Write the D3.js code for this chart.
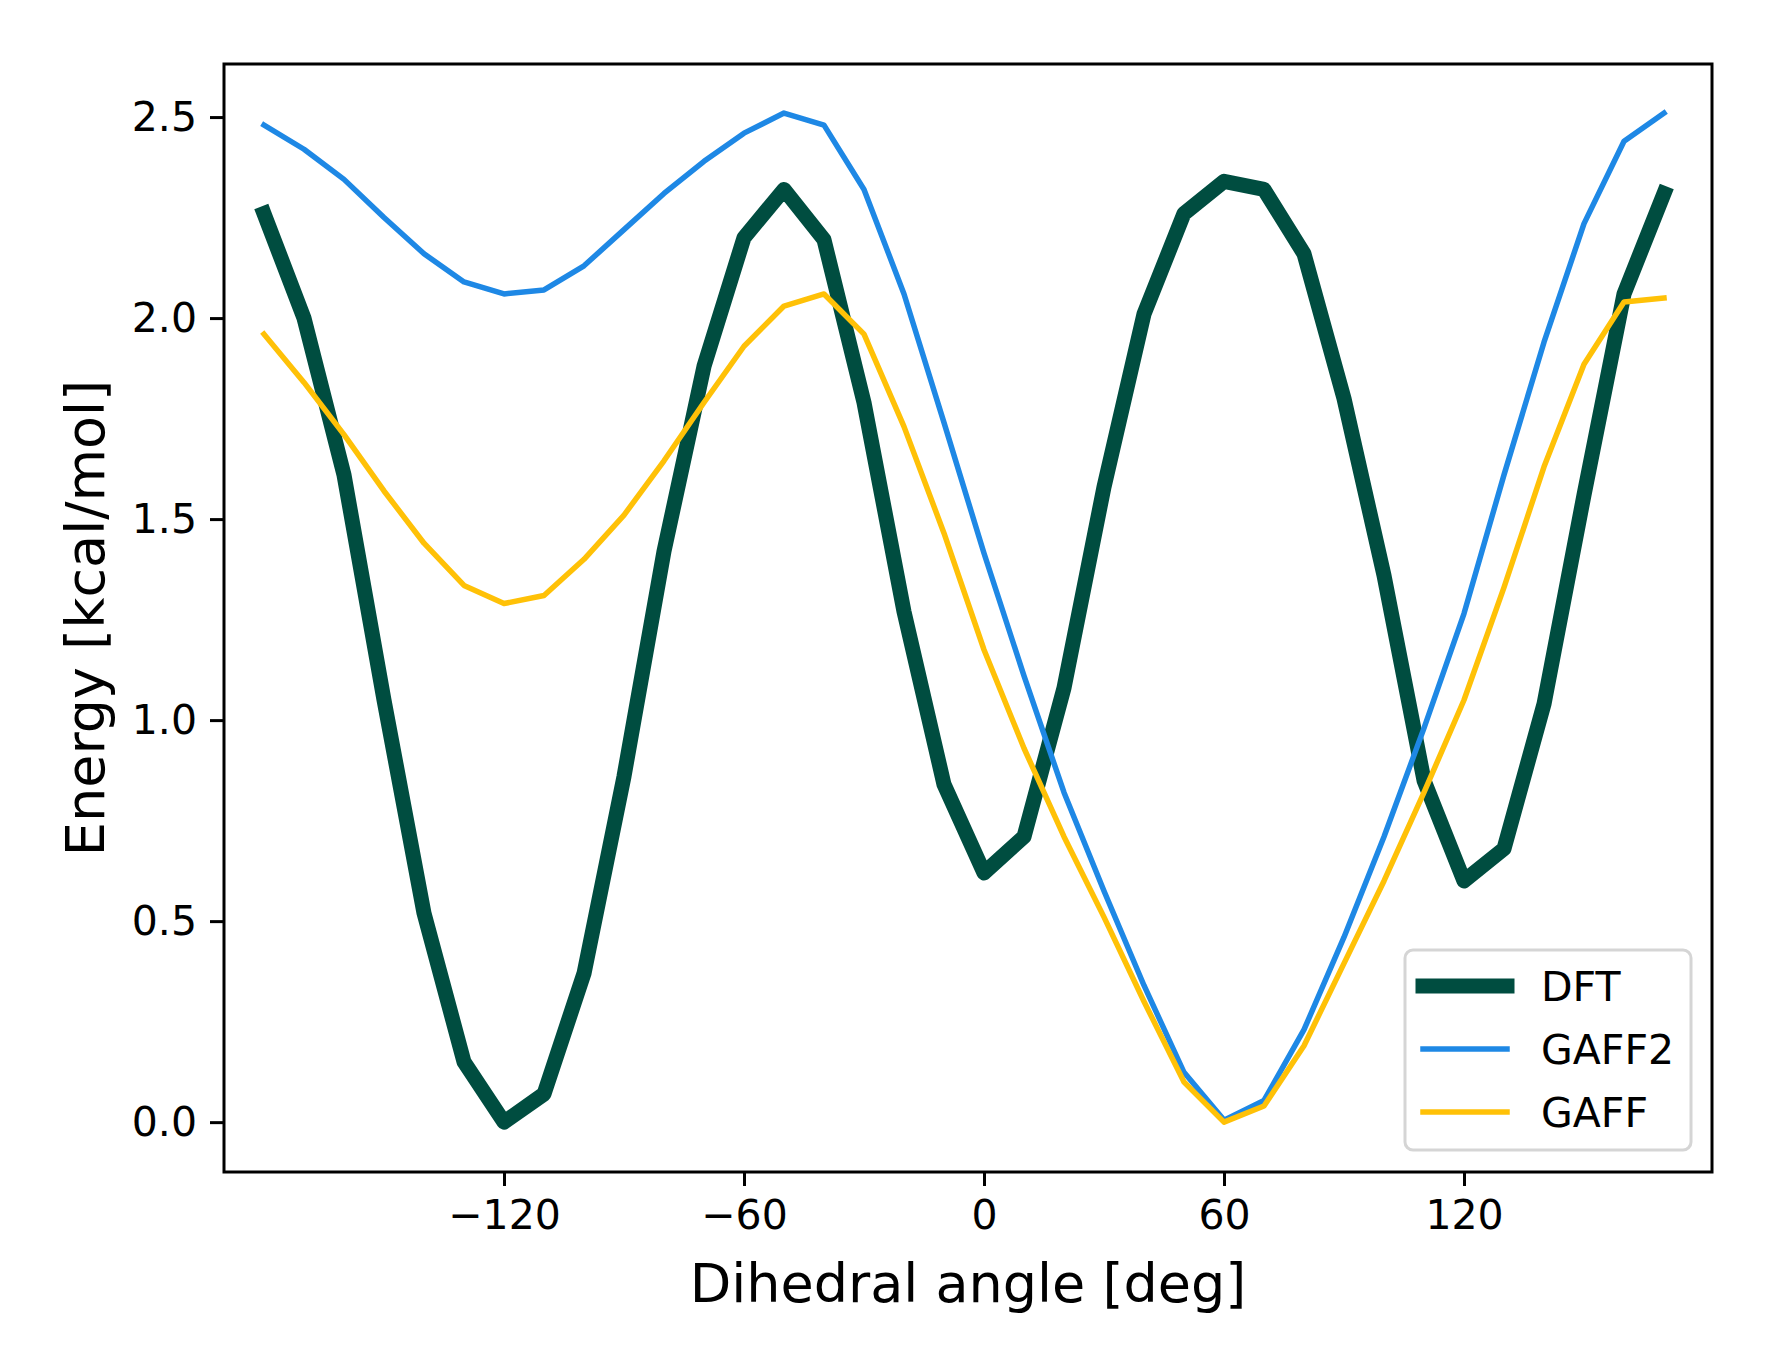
<!DOCTYPE html>
<html>
<head>
<meta charset="utf-8">
<script src="https://cdn.jsdelivr.net/npm/d3@7"></script>
<style>
  html, body { margin: 0; padding: 0; background: #fff; }
  svg { display: block; font-family: "DejaVu Sans", sans-serif; }
</style>
</head>
<body>
<div id="chart"></div>
<script>
// dihedral scan, every 10 degrees
const angles = [-180, -170, -160, -150, -140, -130, -120, -110, -100, -90, -80, -70,
  -60, -50, -40, -30, -20, -10, 0, 10, 20, 30, 40, 50, 60, 70, 80, 90, 100, 110,
  120, 130, 140, 150, 160, 170];

const dft = [2.26, 2.00, 1.61, 1.05, 0.52, 0.15, 0.00, 0.07, 0.37, 0.86, 1.42, 1.88,
  2.20, 2.32, 2.195, 1.79, 1.27, 0.84, 0.62, 0.71, 1.08, 1.58, 2.01, 2.26, 2.34, 2.32,
  2.16, 1.80, 1.36, 0.85, 0.60, 0.68, 1.04, 1.56, 2.06, 2.31];

const gaff2 = [2.48, 2.42, 2.345, 2.25, 2.16, 2.09, 2.06, 2.07, 2.13, 2.22, 2.31, 2.39,
  2.46, 2.51, 2.48, 2.32, 2.06, 1.74, 1.415, 1.11, 0.82, 0.575, 0.34, 0.124, 0.005, 0.054,
  0.23, 0.46, 0.71, 0.98, 1.265, 1.61, 1.94, 2.235, 2.44, 2.51];

const gaff = [1.96, 1.84, 1.71, 1.57, 1.44, 1.335, 1.29, 1.31, 1.40, 1.51, 1.645, 1.79,
  1.93, 2.03, 2.06, 1.96, 1.73, 1.465, 1.175, 0.93, 0.71, 0.51, 0.30, 0.10, 0.00, 0.04,
  0.19, 0.395, 0.60, 0.82, 1.05, 1.33, 1.63, 1.885, 2.04, 2.05];

const xTicks = [-120, -60, 0, 60, 120];
const yTicks = [0.0, 0.5, 1.0, 1.5, 2.0, 2.5];

const seriesNames = ['DFT', 'GAFF2', 'GAFF'];
const seriesValues = [dft, gaff2, gaff];
const seriesColors = ['#004d40', '#1e88e5', '#ffc107'];
const seriesWidths = [15, 5.5, 5.5];

const width = 1775, height = 1372;
const margin = { top: 64, right: 63, bottom: 200, left: 224 };

const svg = d3.select('#chart')
  .append('svg')
  .attr('width', width)
  .attr('height', height);

const x = d3.scaleLinear()
  .domain([-190, 182])
  .range([margin.left, width - margin.right]);

const y = d3.scaleLinear()
  .domain([-0.124, 2.632])
  .range([height - margin.bottom, margin.top]);

// lines
const line = d3.line()
  .x((d, i) => x(angles[i]))
  .y(d => y(d));

const plot = svg.append('g');
seriesValues.forEach((vals, k) => {
  plot.append('path')
    .datum(vals)
    .attr('fill', 'none')
    .attr('stroke', seriesColors[k])
    .attr('stroke-width', seriesWidths[k])
    .attr('stroke-linejoin', 'round')
    .attr('stroke-linecap', 'square')
    .attr('d', line);
});

// axes
const tickStyle = g => {
  g.select('.domain').remove();
  g.selectAll('.tick line').attr('stroke', '#000').attr('stroke-width', 3);
  g.selectAll('.tick text')
    .attr('fill', '#000')
    .attr('font-size', 41)
    .attr('font-family', '"DejaVu Sans", sans-serif');
};

svg.append('g')
  .attr('transform', `translate(0,${height - margin.bottom})`)
  .call(d3.axisBottom(x).tickValues(xTicks).tickFormat(d3.format('d'))
    .tickSize(14).tickPadding(14))
  .call(tickStyle);

svg.append('g')
  .attr('transform', `translate(${margin.left},0)`)
  .call(d3.axisLeft(y).tickValues(yTicks).tickFormat(d3.format('.1f'))
    .tickSize(14).tickPadding(13))
  .call(tickStyle);

// frame
svg.append('rect')
  .attr('x', margin.left)
  .attr('y', margin.top)
  .attr('width', width - margin.left - margin.right)
  .attr('height', height - margin.top - margin.bottom)
  .attr('fill', 'none')
  .attr('stroke', '#000')
  .attr('stroke-width', 3);

// axis labels
svg.append('text')
  .attr('x', (margin.left + width - margin.right) / 2)
  .attr('y', 1302)
  .attr('text-anchor', 'middle')
  .attr('font-size', 54)
  .text('Dihedral angle [deg]');

svg.append('text')
  .attr('transform', `translate(104,${(margin.top + height - margin.bottom) / 2}) rotate(-90)`)
  .attr('text-anchor', 'middle')
  .attr('font-size', 54)
  .text('Energy [kcal/mol]');

// legend
const legend = svg.append('g').attr('transform', 'translate(1405,950)');
legend.append('rect')
  .attr('width', 286)
  .attr('height', 200)
  .attr('rx', 8)
  .attr('fill', '#fff')
  .attr('fill-opacity', 0.8)
  .attr('stroke', '#d5d5d5')
  .attr('stroke-width', 3);

seriesNames.forEach((name, k) => {
  const yy = 36 + k * 63;
  legend.append('line')
    .attr('x1', 18).attr('x2', 102)
    .attr('y1', yy).attr('y2', yy)
    .attr('stroke', seriesColors[k])
    .attr('stroke-width', seriesWidths[k])
    .attr('stroke-linecap', 'square');
  legend.append('text')
    .attr('x', 136)
    .attr('y', yy + 15)
    .attr('font-size', 41)
    .text(name);
});
</script>
</body>
</html>
